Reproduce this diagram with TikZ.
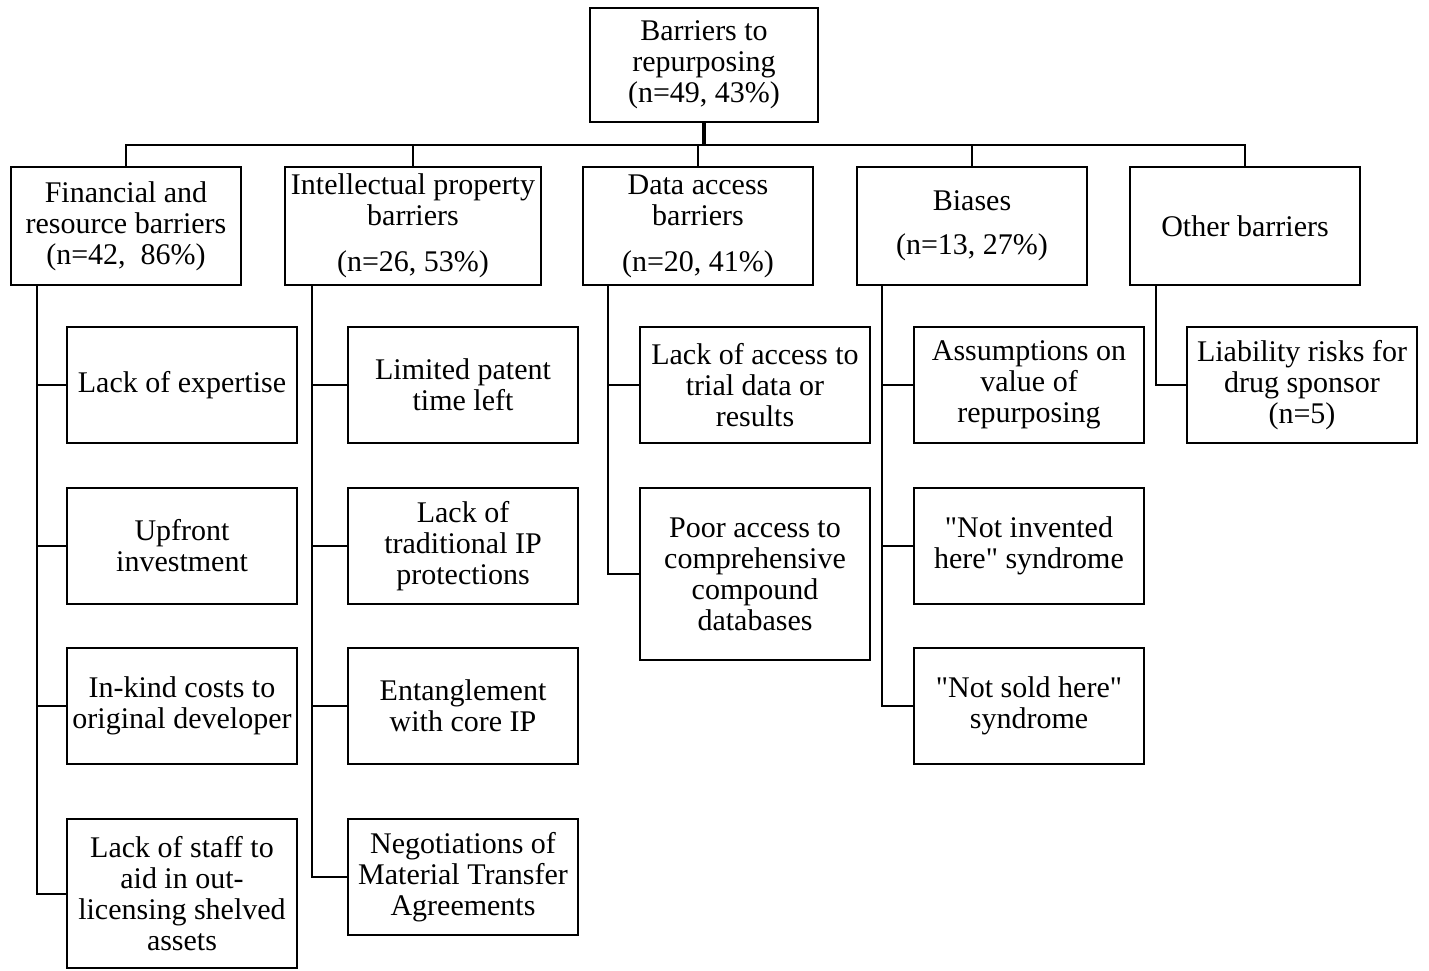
\documentclass[tikz,border=0pt]{standalone}
\usepackage{fontspec}
\setmainfont{Liberation Serif}[Ligatures=TeXOff]
\begin{document}
\begin{tikzpicture}[x=0.5pt,y=-0.5pt,
  box/.style={draw, line width=1pt, inner sep=0pt, align=center,
    font=\fontsize{15}{15.5}\selectfont, minimum width=115pt, minimum height=58pt},
  topbox/.style={box, minimum height=59pt},
  conn/.style={line width=1pt},
  trunkline/.style={line width=2pt}]
\useasboundingbox (0,0) rectangle (1429,970);
% root
\node[box, line width=1.4pt, minimum width=114pt, minimum height=57pt] (root) at (704,65)
  {Barriers to\\repurposing\\(n=49, 43\%)};
% level 1
\node[topbox] (fin) at (126,226) {Financial and\\resource barriers\\(n=42,~~86\%)};
\node[topbox, minimum width=128pt] (ip) at (413,226) {Intellectual property\\barriers\\[7.5pt](n=26, 53\%)};
\node[topbox] (data) at (698,226) {Data access\\barriers\\[7.5pt](n=20, 41\%)};
\node[topbox] (bias) at (972,226) {Biases\\[6.5pt](n=13, 27\%)};
\node[topbox] (other) at (1245,226) {Other barriers};
% level 2: financial
\node[box] (f1) at (182,385) {Lack of expertise};
\node[box] (f2) at (182,546) {Upfront\\investment};
\node[box] (f3) at (182,706) {In-kind costs to\\original developer};
\node[box, minimum height=74.5pt] (f4) at (182,893.5) {Lack of staff to\\aid in out-\\licensing shelved\\assets};
% IP
\node[box] (i1) at (463,385) {Limited patent\\time left};
\node[box] (i2) at (463,546) {Lack of\\traditional IP\\protections};
\node[box] (i3) at (463,706) {Entanglement\\with core IP};
\node[box] (i4) at (463,877) {Negotiations of\\Material Transfer\\Agreements};
% data
\node[box] (d1) at (755,385) {Lack of access to\\trial data or\\results};
\node[box, minimum height=86pt] (d2) at (755,574) {Poor access to\\comprehensive\\compound\\databases};
% biases
\node[box] (b1) at (1029,385) {Assumptions on\\value of\\repurposing};
\node[box] (b2) at (1029,546) {"Not invented\\here" syndrome};
\node[box] (b3) at (1029,706) {"Not sold here"\\syndrome};
% other
\node[box] (o1) at (1302,385) {Liability risks for\\drug sponsor\\(n=5)};
% bus
\coordinate (busy) at (704,145);
\draw[trunkline] (root.south) -- (root.south |- busy);
\draw[conn] (fin.north) |- (busy) -| (other.north);
\draw[conn] (ip.north) -- (ip.north |- busy);
\draw[conn] (data.north) -- (data.north |- busy);
\draw[conn] (bias.north) -- (bias.north |- busy);
% trunks
\coordinate (ft) at (37,285);
\coordinate (it) at (312,285);
\coordinate (dt) at (608,285);
\coordinate (bt) at (882,285);
\coordinate (ot) at (1156,285);
\draw[conn] (ft) |- (f4.west);
\draw[conn] (f1.west) -- (f1.west -| ft);
\draw[conn] (f2.west) -- (f2.west -| ft);
\draw[conn] (f3.west) -- (f3.west -| ft);
\draw[conn] (it) |- (i4.west);
\draw[conn] (i1.west) -- (i1.west -| it);
\draw[conn] (i2.west) -- (i2.west -| it);
\draw[conn] (i3.west) -- (i3.west -| it);
\draw[conn] (dt) |- (d2.west);
\draw[conn] (d1.west) -- (d1.west -| dt);
\draw[conn] (bt) |- (b3.west);
\draw[conn] (b1.west) -- (b1.west -| bt);
\draw[conn] (b2.west) -- (b2.west -| bt);
\draw[conn] (ot) |- (o1.west);
\end{tikzpicture}
\end{document}
